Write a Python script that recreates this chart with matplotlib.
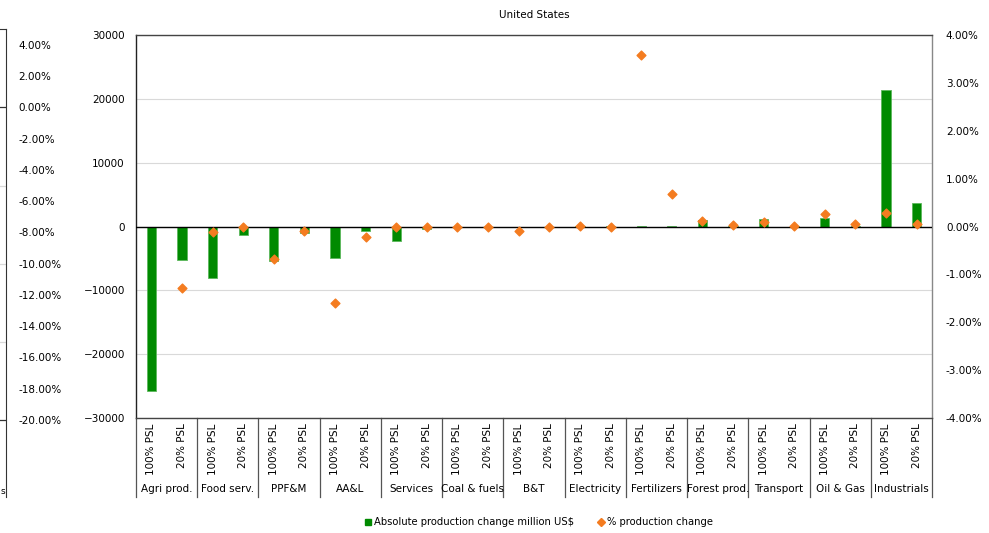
import matplotlib
matplotlib.use("Agg")
import matplotlib.pyplot as plt
import matplotlib.transforms as mtransforms
from matplotlib.lines import Line2D
import numpy as np

plt.rcParams['font.family'] = ['DejaVu Sans']
plt.rcParams['font.size'] = 7.5

groups = ["Agri prod.", "Food serv.", "PPF&M", "AA&L", "Services", "Coal & fuels",
          "B&T", "Electricity", "Fertilizers", "Forest prod.", "Transport",
          "Oil & Gas", "Industrials"]
scenarios = ["100% PSL", "20% PSL"]

# absolute production change, million US$ (100% PSL, 20% PSL per group)
abs_change = [-25800, -5250, -8050, -1350, -5400, -1000, -4950, -700, -2300, -400,
              -100, -30, -40, -20, 20, 10, 150, 20, 1000, 60,
              1150, 40, 1380, 100, 21350, 3750]
# % production change (Agri prod. 100% PSL is off the scale)
pct_change = [-9.0, -1.28, -0.11, -0.01, -0.67, -0.10, -1.60, -0.21, -0.02, 0.0,
              -0.02, 0.0, -0.09, -0.01, 0.01, 0.0, 3.59, 0.685, 0.12, 0.03,
              0.10, 0.02, 0.27, 0.06, 0.28, 0.06]

# leftover axis labels of the neighbouring chart
prev_ticks = [4, 2, 0, -2, -4, -6, -8, -10, -12, -14, -16, -18, -20]

fig = plt.figure(figsize=(9.89, 5.33), dpi=100)

# main chart
ax = fig.add_axes([136/989, 1-418/533, 796/989, 383/533])
x = np.arange(len(abs_change))
ax.bar(x, abs_change, width=0.3, color="#008a00", edgecolor="#5cb85c", linewidth=0.6, zorder=3)
ax.set_xlim(-0.5, len(abs_change)-0.5)
ax.set_ylim(-30000, 30000)
ax.set_yticks(range(-30000, 30001, 10000))
ax.yaxis.grid(True, color="#d9d9d9", linewidth=0.8)
ax.set_axisbelow(True)
ax.axhline(0, color="black", linewidth=1.0, zorder=4)
ax.tick_params(axis="y", length=0, pad=8)
ax.set_xticks(x)
ax.set_xticklabels(scenarios * len(groups), rotation=90, va="top")
ax.tick_params(axis="x", length=0, pad=4)
ax.spines["left"].set_color("#222222")
ax.spines["top"].set_color("#444444")
ax.spines["right"].set_color("#888888")
ax.spines["bottom"].set_color("#444444")
for s in ax.spines.values():
    s.set_linewidth(1.0)
ax.set_title("United States", fontsize=7.5, pad=12)

ax2 = ax.twinx()
ax2.scatter(x, pct_change, marker="D", s=20, color="#f47c20", zorder=5, clip_on=True)
ax2.set_ylim(-4, 4)
ax2.set_yticks(range(-4, 5))
ax2.set_yticklabels(["%.2f%%" % v for v in range(-4, 5)])
ax2.tick_params(axis="y", length=0, pad=10)
for s in ax2.spines.values():
    s.set_visible(False)

# group labels and separators under the axis
trans = mtransforms.blended_transform_factory(ax.transData, ax.transAxes)
sep_bottom = -(497-418)/383
for i, g in enumerate(groups):
    ax.text(2*i + 0.5, -(489-418)/383, g, transform=trans, ha="center", va="center")
for i in range(len(groups) + 1):
    ax.plot([2*i - 0.5, 2*i - 0.5], [0, sep_bottom], transform=trans,
            color="#555555", linewidth=0.9, clip_on=False)

# legend
handles = [Line2D([], [], marker="s", color="#008a00", linestyle="none", markersize=4.5),
           Line2D([], [], marker="D", color="#f47c20", linestyle="none", markersize=4)]
fig.legend(handles, ["Absolute production change million US$", "% production change"],
           loc="center", bbox_to_anchor=(538/989, 1-522/533), ncol=2, frameon=False,
           handletextpad=0.1, columnspacing=2.2, handlelength=1.0, fontsize=7.2)

# cut-off neighbouring chart at the left edge
ax0 = fig.add_axes([-0.05, 1-497/533, 0.056, 468/533])
ax0.set_ylim(-24.93, 5.02)
ax0.set_xlim(0, 1)
ax0.yaxis.tick_right()
ax0.set_yticks(prev_ticks)
ax0.set_yticklabels(["%.2f%%" % v for v in prev_ticks])
ax0.tick_params(axis="y", length=0, pad=9)
ax0.set_xticks([])
for v in [0, -5, -10, -15, -20]:
    ax0.axhline(v, color="#d9d9d9" if v not in (0, -20) else "#333333", linewidth=0.9)
for k in ["left", "bottom"]:
    ax0.spines[k].set_visible(False)
ax0.spines["right"].set_color("#333333")
ax0.spines["top"].set_color("#333333")
fig.text(0.0005, 1-491/533, "s", ha="left", va="center", fontsize=6.5)

fig.savefig("out.png", dpi=100)
